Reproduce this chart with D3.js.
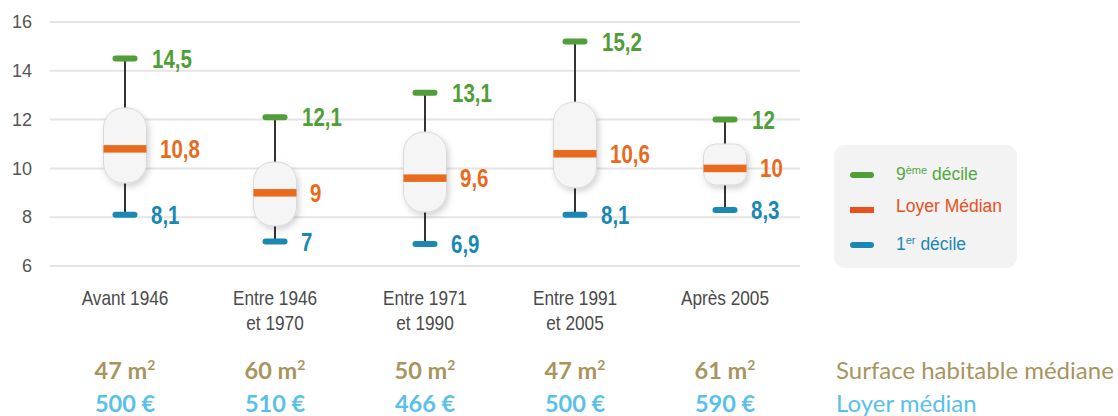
<!DOCTYPE html>
<html>
<head>
<meta charset="utf-8">
<script src="https://cdn.jsdelivr.net/npm/d3@7"></script>
<style>
  html, body { margin: 0; padding: 0; background: #fff; }
  svg { display: block; }
</style>
</head>
<body>
<svg id="chart" width="1118" height="416"></svg>
<script>
// ---- data ----
const categories = ["Avant 1946", "Entre 1946\net 1970", "Entre 1971\net 1990", "Entre 1991\net 2005", "Après 2005"];
const decile9 = [14.5, 12.1, 13.1, 15.2, 12];
const medians = [10.8, 9, 9.6, 10.6, 10];
const decile1 = [8.1, 7, 6.9, 8.1, 8.3];
const boxHigh = [12.48, 10.26, 11.49, 12.72, 11.0];
const boxLow = [9.4, 7.64, 8.21, 9.2, 9.32];
const yTicks = [6, 8, 10, 12, 14, 16];
const surfaces = ["47", "60", "50", "47", "61"];
const loyers = ["500 €", "510 €", "466 €", "500 €", "590 €"];
const fmt = v => String(v).replace(".", ",");

const svg = d3.select("#chart");
const green = "#4f9e37", orange = "#ea6a1d", blue = "#1b88b4";
const NARROW = 0.82;

const x = d3.scaleBand().domain(categories).range([50, 800]).padding(0);
const y = d3.scaleLinear().domain([6, 16]).range([266, 22]);
const cx = c => x(c) + x.bandwidth() / 2;

// shadow filter
const defs = svg.append("defs");
const f = defs.append("filter").attr("id", "shadow").attr("x", "-50%").attr("y", "-50%").attr("width", "200%").attr("height", "200%");
f.append("feDropShadow").attr("dx", 2).attr("dy", 3).attr("stdDeviation", 3).attr("flood-color", "#000").attr("flood-opacity", 0.18);

// gridlines
svg.append("g").selectAll("line").data(yTicks).join("line")
  .attr("x1", 50).attr("x2", 800)
  .attr("y1", d => y(d)).attr("y2", d => y(d))
  .attr("stroke", "#e4e4e4").attr("stroke-width", 2);

// y axis labels
const yAxis = svg.append("g").attr("transform", "translate(32,0)")
  .call(d3.axisLeft(y).tickValues(yTicks).tickSize(0).tickPadding(0));
yAxis.select(".domain").remove();
yAxis.selectAll("text").attr("font-family", "Liberation Sans, Arial, sans-serif")
  .attr("font-size", 18).attr("fill", "#555");

// x axis labels (condensed Arial look)
const xg = svg.append("g");
categories.forEach(c => {
  const t = xg.append("text")
    .attr("transform", `translate(${cx(c)},305) scale(${NARROW},1)`)
    .attr("text-anchor", "middle")
    .attr("font-family", "Liberation Sans, Arial, sans-serif")
    .attr("font-size", 21).attr("fill", "#4a4a4a");
  c.split("\n").forEach((line, i) => {
    t.append("tspan").attr("x", 0).attr("dy", i === 0 ? 0 : 25).text(line);
  });
});

// boxes
const boxW = 43;
categories.forEach((c, i) => {
  const g = svg.append("g");
  const xc = cx(c);
  // whiskers
  g.append("line").attr("x1", xc).attr("x2", xc).attr("y1", y(decile9[i])).attr("y2", y(boxHigh[i]))
    .attr("stroke", "#333").attr("stroke-width", 2);
  g.append("line").attr("x1", xc).attr("x2", xc).attr("y1", y(boxLow[i])).attr("y2", y(decile1[i]))
    .attr("stroke", "#333").attr("stroke-width", 2);
  // caps
  g.append("rect").attr("x", xc - 12.5).attr("y", y(decile9[i]) - 3).attr("width", 25).attr("height", 6)
    .attr("rx", 3).attr("fill", green);
  g.append("rect").attr("x", xc - 12.5).attr("y", y(decile1[i]) - 3).attr("width", 25).attr("height", 6)
    .attr("rx", 3).attr("fill", blue);
  // box
  const top = y(boxHigh[i]), bot = y(boxLow[i]);
  const h = bot - top;
  const r = Math.min(20, h * 0.3);
  g.append("rect").attr("x", xc - boxW / 2).attr("y", top).attr("width", boxW).attr("height", h)
    .attr("rx", r).attr("fill", "#f5f5f5").attr("stroke", "#d9d9d9").attr("stroke-width", 1)
    .attr("filter", "url(#shadow)");
  // median
  g.append("rect").attr("x", xc - boxW / 2).attr("y", y(medians[i]) - 3.75).attr("width", boxW).attr("height", 7.5)
    .attr("fill", orange);
  // labels
  const lab = (v, dx, col) => g.append("text")
    .attr("transform", `translate(${xc + dx},${y(v)}) scale(${NARROW},1)`)
    .attr("dy", "0.36em")
    .attr("font-family", "Liberation Sans, Arial, sans-serif")
    .attr("font-weight", "bold").attr("font-size", 25).attr("fill", col).text(fmt(v));
  lab(decile9[i], 27, green);
  lab(medians[i], 35, orange);
  lab(decile1[i], 26, blue);
});

// legend
const lg = svg.append("g");
lg.append("rect").attr("x", 834).attr("y", 145).attr("width", 183).attr("height", 123).attr("rx", 11).attr("fill", "#f3f3f3");
const legItems = [
  { col: green, txt: ["9", "ème", " décile"], y: 175, ty: 180, tcol: "#55a83f", round: 3 },
  { col: "#e8511f", txt: ["Loyer Médian"], y: 210, ty: 212, tcol: "#e8511f", round: 0 },
  { col: blue, txt: ["1", "er", " décile"], y: 245, ty: 250, tcol: "#1b88b4", round: 3 }
];
legItems.forEach(it => {
  lg.append("rect").attr("x", 850).attr("y", it.y - 3).attr("width", 24).attr("height", 6)
    .attr("rx", it.round).attr("fill", it.col);
  const t = lg.append("text").attr("x", 896).attr("y", it.ty)
    .attr("font-family", "Liberation Sans, Arial, sans-serif").attr("font-size", 17.5).attr("fill", it.tcol);
  if (it.txt.length === 1) {
    t.text(it.txt[0]);
  } else {
    t.append("tspan").text(it.txt[0]);
    t.append("tspan").attr("font-size", 11).attr("dy", -6).text(it.txt[1]);
    t.append("tspan").attr("dy", 6).text(it.txt[2]);
  }
});

// bottom rows
const olive = "#a8955d", cyan = "#58c0ea";
categories.forEach((c, i) => {
  const t = svg.append("text").attr("x", cx(c)).attr("y", 379).attr("text-anchor", "middle")
    .attr("font-family", "Lato, sans-serif").attr("font-weight", "bold").attr("font-size", 23.5).attr("fill", olive);
  t.append("tspan").text(surfaces[i] + " m");
  t.append("tspan").attr("font-size", 14).attr("dy", -9).text("2");
  svg.append("text").attr("x", cx(c)).attr("y", 412).attr("text-anchor", "middle")
    .attr("font-family", "Lato, sans-serif").attr("font-weight", "bold").attr("font-size", 23.5).attr("fill", cyan)
    .text(loyers[i]);
});
svg.append("text").attr("x", 836).attr("y", 379).attr("font-family", "Lato, sans-serif")
  .attr("font-size", 24).attr("fill", olive).text("Surface habitable médiane");
svg.append("text").attr("x", 836).attr("y", 412).attr("font-family", "Lato, sans-serif")
  .attr("font-size", 24).attr("fill", cyan).text("Loyer médian");
</script>
</body>
</html>
